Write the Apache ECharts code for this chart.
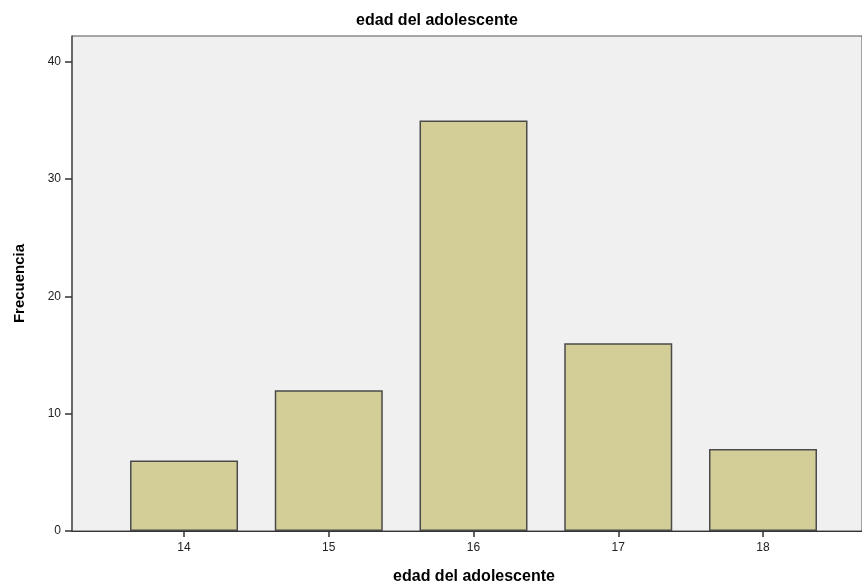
<!DOCTYPE html>
<html><head><meta charset="utf-8">
<script src="https://cdn.jsdelivr.net/npm/echarts@6/dist/echarts.min.js"></script>
<style>html,body{margin:0;padding:0;background:#fff}#c{width:862px;height:584px}</style>
</head><body><div id="c"></div>
<script>
const ages = [14, 15, 16, 17, 18];
const freq = [6, 12, 35, 16, 7];
const yTicks = [0, 10, 20, 30, 40];

const chart = echarts.init(document.getElementById('c'));
const font = 'Liberation Sans, Arial, sans-serif';
chart.setOption({
  animation: false,
  title: {
    text: 'edad del adolescente', left: 432, textAlign: 'center', top: 8,
    textStyle: {fontFamily: font, fontSize: 16, fontWeight: 'bold', color: '#000'}
  },
  grid: {
    left: 72, right: 0, top: 36, bottom: 53, show: true, outerBoundsMode: 'none',
    backgroundColor: '#f0f0f0', borderColor: '#555', borderWidth: 1
  },
  xAxis: {
    type: 'value', min: 13.226, max: 18.684,
    name: 'edad del adolescente', nameLocation: 'middle', nameGap: 38,
    nameTextStyle: {fontFamily: font, fontSize: 16, fontWeight: 'bold', color: '#000', padding: [0, 0, 0, 14]},
    axisLine: {show: true, lineStyle: {color: '#333', width: 1.2}},
    axisTick: {show: true, customValues: ages, length: 6, inside: false, lineStyle: {color: '#333', width: 1.5}},
    axisLabel: {customValues: ages, fontFamily: font, fontSize: 12, color: '#222', margin: 11},
    splitLine: {show: false}
  },
  yAxis: {
    type: 'value', min: 0, max: 42.2,
    name: 'Frecuencia', nameLocation: 'middle', nameGap: 45, nameRotate: 90,
    nameTextStyle: {fontFamily: font, fontSize: 15, fontWeight: 'bold', color: '#000'},
    axisLine: {show: true, lineStyle: {color: '#555', width: 1.5}},
    axisTick: {show: true, customValues: yTicks, length: 7, lineStyle: {color: '#333', width: 1.5}},
    axisLabel: {customValues: yTicks, fontFamily: font, fontSize: 12, color: '#222', margin: 11},
    splitLine: {show: false}
  },
  series: [{
    type: 'bar', barWidth: 108,
    data: ages.map((a, i) => [a, freq[i]]),
    itemStyle: {color: '#d3ce98', borderColor: '#4a4a4a', borderWidth: 1.5}
  }]
});
</script></body></html>
